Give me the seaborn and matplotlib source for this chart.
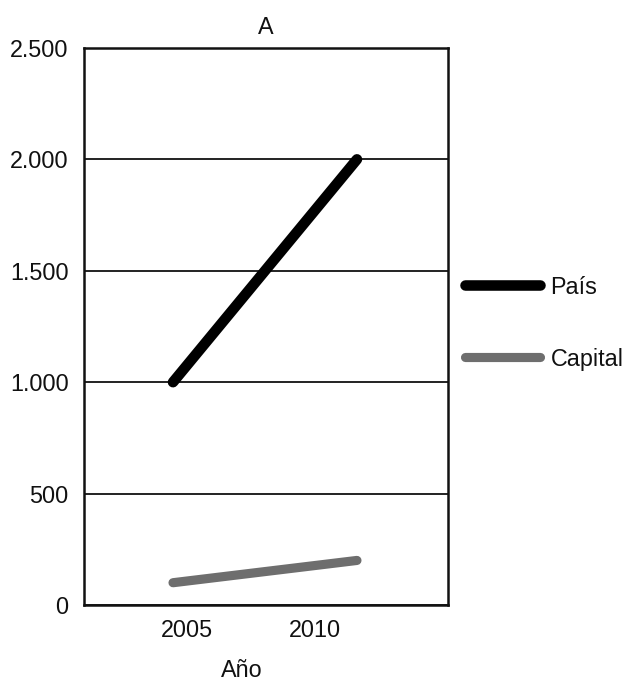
import matplotlib
matplotlib.use("Agg")
import matplotlib.pyplot as plt
import seaborn as sns
import pandas as pd

# Series values
anios = [2005, 2010]
pais = [1000, 2000]
capital = [100, 200]
series = ["País", "Capital"]
colores = {"País": "#000000", "Capital": "#6e6e6e"}

# Axis ticks
y_ticks = [0, 500, 1000, 1500, 2000, 2500]
y_labels = ["0", "500", "1.000", "1.500", "2.000", "2.500"]
x_labels = ["2005", "2010"]

df = pd.DataFrame({
    "Año": anios * 2,
    "Valor": pais + capital,
    "Serie": [series[0]] * len(anios) + [series[1]] * len(anios),
})

sns.set_theme(style="white")
plt.rcParams["font.family"] = ["Liberation Sans", "DejaVu Sans"]

fs = 16.8
fig = plt.figure(figsize=(6.22, 6.81), dpi=100)
ax = fig.add_axes([0.135, 0.1116, 0.585, 0.818])

anchos = {"País": 7.6, "Capital": 6.6}
for s in series:
    sns.lineplot(data=df[df["Serie"] == s], x="Año", y="Valor", ax=ax,
                 color=colores[s], linewidth=anchos[s], label=s,
                 solid_capstyle="round", zorder=3)

ax.set_xlim(2002.58, 2012.47)
ax.set_ylim(0, 2500)
ax.set_yticks(y_ticks)
ax.set_yticklabels(y_labels)
ax.set_xticks([2005.38, 2008.86])
ax.set_xticklabels(x_labels)
ax.tick_params(axis="both", length=0, labelsize=fs, colors="#111111")
ax.tick_params(axis="y", pad=11)
ax.tick_params(axis="x", pad=10)

ax.yaxis.grid(True, color="#111111", linewidth=1.3)
ax.xaxis.grid(False)
ax.set_axisbelow(True)
for sp in ax.spines.values():
    sp.set_visible(True)
    sp.set_color("#111111")
    sp.set_linewidth(1.8)

ax.set_title("A", fontsize=fs, pad=10, color="#111111")
ax.set_xlabel("Año", fontsize=fs, color="#111111")
ax.xaxis.set_label_coords(0.434, -0.097)
ax.set_ylabel("")

leg = ax.legend(loc="center left", bbox_to_anchor=(1.048, 0.506),
                frameon=False, fontsize=fs, handlelength=3.2,
                handletextpad=0.45, labelspacing=2.1, borderpad=0,
                borderaxespad=0)
for t in leg.get_texts():
    t.set_color("#111111")

fig.savefig("out.png", dpi=100)
